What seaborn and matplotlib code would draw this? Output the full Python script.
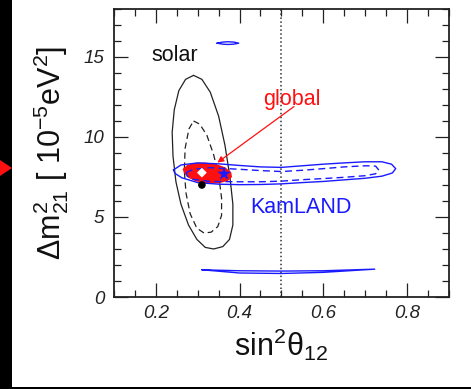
"""Solar / KamLAND / global allowed regions in the (sin^2 theta12, dm21^2) plane."""

import matplotlib

matplotlib.use("Agg")
import matplotlib.pyplot as plt
import seaborn as sns
from matplotlib.patches import Polygon, Rectangle
from matplotlib.ticker import MultipleLocator

# contour outlines: sin^2(theta12), dm21^2 [1e-5 eV^2]
solar_outer_x = [0.290, 0.310, 0.330, 0.350, 0.365, 0.377, 0.384, 0.384, 0.376, 0.360,
                 0.338, 0.318, 0.298, 0.278, 0.260, 0.248, 0.241, 0.239, 0.244, 0.255,
                 0.271, 0.290]
solar_outer_y = [13.85, 13.6, 12.8, 11.3, 9.5, 7.5, 5.8, 4.5, 3.6, 3.15,
                 3.0, 3.1, 3.6, 4.5, 5.8, 7.2, 8.8, 10.3, 11.7, 12.9,
                 13.6, 13.85]

solar_inner_x = [0.290, 0.305, 0.322, 0.338, 0.350, 0.357, 0.357, 0.348, 0.332, 0.315,
                 0.298, 0.282, 0.272, 0.268, 0.270, 0.279, 0.290]
solar_inner_y = [11.0, 10.8, 10.1, 8.9, 7.6, 6.2, 5.1, 4.4, 4.05, 4.0,
                 4.3, 5.2, 6.5, 7.9, 9.3, 10.5, 11.0]

kam_outer_x = [0.242, 0.260, 0.300, 0.350, 0.400, 0.450, 0.500, 0.550, 0.600, 0.650,
               0.700, 0.740, 0.763, 0.773, 0.765, 0.740, 0.700, 0.650, 0.600, 0.550,
               0.500, 0.450, 0.400, 0.350, 0.300, 0.262, 0.246, 0.242]
kam_outer_y = [7.94, 8.25, 8.38, 8.32, 8.22, 8.13, 8.10, 8.20, 8.30, 8.38,
               8.45, 8.45, 8.30, 8.02, 7.75, 7.55, 7.42, 7.32, 7.22, 7.15,
               7.07, 7.03, 7.02, 7.05, 7.15, 7.45, 7.72, 7.94]

kam_inner_x = [0.272, 0.290, 0.330, 0.400, 0.450, 0.500, 0.550, 0.600, 0.650, 0.700,
               0.725, 0.733, 0.725, 0.700, 0.650, 0.600, 0.550, 0.500, 0.450, 0.400,
               0.330, 0.290, 0.275, 0.272]
kam_inner_y = [7.77, 7.98, 8.08, 7.98, 7.90, 7.84, 7.92, 8.02, 8.13, 8.20,
               8.18, 7.92, 7.70, 7.58, 7.48, 7.40, 7.33, 7.24, 7.20, 7.20,
               7.22, 7.35, 7.55, 7.77]

kam_top_x = [0.346, 0.360, 0.372, 0.386, 0.398, 0.386, 0.372, 0.360, 0.346]
kam_top_y = [15.86, 15.93, 15.95, 15.93, 15.86, 15.80, 15.78, 15.80, 15.86]

kam_low_x = [0.310, 0.400, 0.500, 0.600, 0.723, 0.600, 0.500, 0.400, 0.310]
kam_low_y = [1.70, 1.64, 1.62, 1.64, 1.74, 1.54, 1.47, 1.50, 1.70]

global_x = [0.264, 0.275, 0.292, 0.318, 0.345, 0.366, 0.380, 0.382, 0.372, 0.350,
            0.322, 0.296, 0.278, 0.267, 0.264]
global_y = [8.00, 8.25, 8.38, 8.40, 8.30, 8.10, 7.80, 7.50, 7.25, 7.10,
            7.10, 7.22, 7.45, 7.75, 8.00]

best_fit_global = (0.310, 7.77)
best_fit_kamland = (0.363, 7.69)
best_fit_solar = (0.310, 7.00)
maximal_mixing = 0.5

x_ticks = [0.2, 0.4, 0.6, 0.8]
y_ticks = [0, 5, 10, 15]

BLUE = "#1a1aff"
RED = "#ff1010"

sns.set_theme(style="ticks")
plt.rcParams["font.family"] = ["Liberation Sans", "DejaVu Sans"]
plt.rcParams["mathtext.fontset"] = "custom"
plt.rcParams["mathtext.rm"] = "Liberation Sans"
plt.rcParams["mathtext.it"] = "Liberation Sans:italic"
plt.rcParams["mathtext.default"] = "regular"

fig = plt.figure(figsize=(4.71, 3.89), dpi=100)
ax = fig.add_axes([0.242, 0.2365, 0.711, 0.7405])

# screenshot framing: black strip on the left, red pointer, bottom rule
strip_w = 12 / 471
fig.patches.append(Rectangle((0, 0), strip_w, 1, transform=fig.transFigure,
                             facecolor="black", edgecolor="none"))
fig.patches.append(Polygon([(0, 1 - 176 / 389), (strip_w, 1 - 168 / 389), (0, 1 - 160 / 389)],
                           closed=True, transform=fig.transFigure,
                           facecolor=RED, edgecolor="none"))
fig.patches.append(Rectangle((strip_w, 0.5 / 389), 1, 2 / 389, transform=fig.transFigure,
                             facecolor="black", edgecolor="none"))

ax.axvline(maximal_mixing, color="#333333", ls=(0, (1, 1.6)), lw=1.1, zorder=1)

line_kw = dict(sort=False, estimator=None, legend=False, ax=ax)
sns.lineplot(x=solar_outer_x, y=solar_outer_y, color="#222222", lw=0.9, **line_kw)
sns.lineplot(x=solar_inner_x, y=solar_inner_y, color="#222222", lw=0.9,
             linestyle=(0, (5, 3)), **line_kw)

ax.fill(global_x, global_y, color=RED, lw=0, zorder=3)

for xs, ys, style in [
    (kam_outer_x, kam_outer_y, "-"),
    (kam_inner_x, kam_inner_y, (0, (5, 3))),
    (kam_top_x, kam_top_y, "-"),
    (kam_low_x, kam_low_y, "-"),
]:
    sns.lineplot(x=xs, y=ys, color=BLUE, lw=1.0, linestyle=style, zorder=4, **line_kw)

sns.scatterplot(x=[best_fit_solar[0]], y=[best_fit_solar[1]], color="black", s=30,
                edgecolor="none", zorder=5, ax=ax)
sns.scatterplot(x=[best_fit_global[0]], y=[best_fit_global[1]], color="white", marker="D",
                s=25, edgecolor="none", zorder=6, ax=ax)
sns.scatterplot(x=[best_fit_kamland[0]], y=[best_fit_kamland[1]], color=BLUE, marker="*",
                s=110, edgecolor="none", zorder=6, ax=ax)

ax.text(0.19, 15.1, "solar", color="#111111", fontsize=15.5, va="center")
ax.text(0.456, 12.35, "global", color=RED, fontsize=15.5, va="center")
ax.text(0.426, 5.6, "KamLAND", color=BLUE, fontsize=15.5, va="center")
ax.annotate("", xy=(0.347, 8.4), xytext=(0.53, 11.9),
            arrowprops=dict(arrowstyle="-|>", color=RED, lw=0.9, mutation_scale=9,
                            shrinkA=0, shrinkB=0), zorder=7)

ax.set_xlim(0.1, 0.9)
ax.set_ylim(0, 18)
ax.set_xticks(x_ticks)
ax.set_yticks(y_ticks)
ax.set_xticklabels([f"{t:.1f}" for t in x_ticks])
ax.set_yticklabels([str(t) for t in y_ticks])
ax.xaxis.set_minor_locator(MultipleLocator(0.05))
ax.yaxis.set_minor_locator(MultipleLocator(1))
ax.tick_params(which="both", direction="in", top=True, right=True, colors="#222222",
               width=0.9)
ax.tick_params(which="major", length=10, labelsize=13.5)
ax.tick_params(which="minor", length=5)
ax.tick_params(axis="x", which="major", pad=6)
ax.tick_params(axis="y", which="major", pad=7)
for label in ax.get_xticklabels() + ax.get_yticklabels():
    label.set_style("italic")
for spine in ax.spines.values():
    spine.set_linewidth(1.3)
    spine.set_color("#222222")

ax.set_xlabel(r"sin$^2$θ$_{12}$", fontsize=22, labelpad=3, color="#111111")
ax.set_ylabel(r"Δm$^2_{21}$ [ 10$^{-5}$eV$^2$]", fontsize=22, labelpad=9, color="#111111")

fig.savefig("out.png", dpi=100)
